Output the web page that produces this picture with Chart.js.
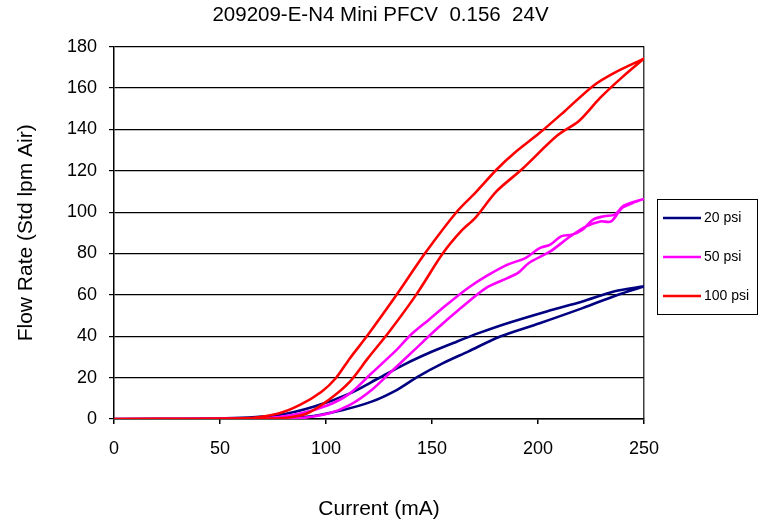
<!DOCTYPE html>
<html>
<head>
<meta charset="utf-8">
<script src="https://cdn.jsdelivr.net/npm/chart.js@4/dist/chart.umd.min.js"></script>
<style>
  html, body { margin: 0; padding: 0; background: #fff; }
  #wrap { width: 761px; height: 523px; }
</style>
</head>
<body>
<div id="wrap"><canvas id="chart" width="761" height="523"></canvas></div>
<script>
// Curvas de histéresis: cada presión tiene rama de subida y rama de bajada.
const TITLE = "209209-E-N4 Mini PFCV  0.156  24V";
const X_TICKS = [0, 50, 100, 150, 200, 250];
const Y_TICKS = [0, 20, 40, 60, 80, 100, 120, 140, 160, 180];

const psi20RiseX = [0, 40, 69, 91, 108, 121.5, 133.3, 143.4, 155.2, 167, 182.2, 200.8, 221, 237.8, 250];
const psi20RiseY = [0, 0, 0.3, 1.1, 4.4, 8.4, 14, 20.5, 27, 32.6, 39.9, 46.3, 53.6, 60.1, 64.1];
const psi20FallX = [250, 236.2, 221, 204.1, 185.6, 172, 161.9, 150.1, 136.6, 124.8, 111.3, 94.5, 77.6, 52.3, 0];
const psi20FallY = [64.1, 61.7, 56.8, 52, 46.3, 41.5, 37.5, 32.6, 26.2, 19.7, 12.4, 6, 1.9, 0.3, 0];

const psi50RiseX = [0, 50, 86, 101.2, 111.3, 121.5, 131.6, 141.7, 151.8, 163.6, 175.4, 185.6, 190.6, 195.7, 205.8, 214.2, 222.7, 229.4, 234.5, 239.5, 244.6, 250];
const psi50RiseY = [0, 0, 0.3, 2.7, 6.8, 14, 23.7, 33.4, 43.1, 53.6, 63.3, 68.1, 70.6, 75.4, 81, 87.5, 93.1, 95.5, 95.5, 101.9, 104.4, 106.4];
const psi50FallX = [250, 240.4, 236.2, 231.1, 226, 221, 216, 210.9, 205.8, 200.8, 194, 185.6, 175.4, 167, 156.9, 148.4, 140, 133.3, 121.5, 111.3, 101.2, 87.7, 69, 0];
const psi50FallY = [106.4, 103.1, 98.8, 98, 96.4, 91.5, 89.1, 88.3, 84.3, 82.6, 77.8, 74.6, 68.9, 63.3, 55.2, 47.9, 40.7, 33.4, 22.1, 12.4, 6.8, 2.7, 0.3, 0];

const psi100RiseX = [0, 50, 77.6, 91, 101.2, 111.3, 119.8, 129.9, 142.5, 155.2, 163.6, 170.4, 180.5, 192.3, 209.2, 219.3, 229.4, 239.5, 250];
const psi100RiseY = [0, 0, 0.3, 2.7, 9.2, 18.1, 29.4, 42.3, 60, 80.2, 90.7, 97.2, 110.1, 120.6, 137.1, 144, 155.3, 165, 174.2];
const psi100FallX = [250, 236.2, 226, 212.6, 200.8, 189, 180.5, 170.4, 161.9, 146.8, 133.3, 119.8, 111.3, 104.6, 97.9, 87.7, 77.6, 60.7, 0];
const psi100FallY = [174.2, 167.4, 161, 148.8, 138.3, 128.7, 120.6, 109.3, 100.4, 80.2, 60, 40.7, 29.4, 19.7, 13.2, 6.8, 2.7, 0.3, 0];

const FONT = "'Liberation Sans', Arial, sans-serif";

// sube por una rama y vuelve por la otra, así queda un solo trazo por presión
function loop(rx, ry, fx, fy) {
  const pts = rx.map((x, i) => ({ x, y: ry[i] }));
  return pts.concat(fx.map((x, i) => ({ x, y: fy[i] })));
}

function series(label, color, pts) {
  return {
    label,
    data: pts,
    showLine: true,
    borderColor: color,
    backgroundColor: color,
    borderWidth: 2.6,
    pointRadius: 0,
    tension: 0.3,
  };
}

// el rojo va primero para que quede dibujado encima
const datasets = [
  series("100 psi", "#ff0000", loop(psi100RiseX, psi100RiseY, psi100FallX, psi100FallY)),
  series("50 psi", "#ff00ff", loop(psi50RiseX, psi50RiseY, psi50FallX, psi50FallY)),
  series("20 psi", "#000080", loop(psi20RiseX, psi20RiseY, psi20FallX, psi20FallY)),
];

// leyenda con recuadro a la derecha, como en Excel
const boxLegend = {
  id: "boxLegend",
  afterDraw(chart) {
    const ctx = chart.ctx;
    const items = chart.data.datasets.slice().reverse();
    const x0 = 657, y0 = 199, w = 100, h = 115;
    ctx.save();
    ctx.fillStyle = "#fff";
    ctx.fillRect(x0, y0, w, h);
    ctx.strokeStyle = "#000";
    ctx.lineWidth = 1;
    ctx.strokeRect(x0 + 0.5, y0 + 0.5, w, h);
    ctx.font = "14px " + FONT;
    ctx.textBaseline = "middle";
    items.forEach((ds, i) => {
      const y = y0 + 19 + i * 39;
      ctx.strokeStyle = ds.borderColor;
      ctx.lineWidth = 2.6;
      ctx.beginPath();
      ctx.moveTo(x0 + 6, y);
      ctx.lineTo(x0 + 44, y);
      ctx.stroke();
      ctx.fillStyle = "#000";
      ctx.fillText(ds.label, x0 + 47, y);
    });
    ctx.restore();
  },
};

new Chart(document.getElementById("chart"), {
  type: "scatter",
  data: { datasets },
  plugins: [boxLegend],
  options: {
    responsive: false,
    animation: false,
    plugins: {
      legend: { display: false },
      tooltip: { enabled: false },
      title: {
        display: true,
        text: TITLE,
        color: "#000",
        font: { family: FONT, size: 20.5, weight: "normal" },
        padding: { top: 3, bottom: 19 },
      },
    },
    scales: {
      x: {
        type: "linear",
        min: 0,
        max: 250,
        afterBuildTicks: (s) => { s.ticks = X_TICKS.map((v) => ({ value: v })); },
        afterFit: (s) => { s.height = 104; },
        ticks: { color: "#000", font: { family: FONT, size: 18 }, padding: 14, maxRotation: 0 },
        grid: {
          drawOnChartArea: true,
          color: (c) => (c.tick && c.tick.value === 250 ? "#404040" : "rgba(0,0,0,0)"),
          tickColor: "#000",
          tickLength: 5,
          lineWidth: 1.5,
        },
        border: { color: "#000", width: 1.5 },
        title: {
          display: true,
          text: "Current (mA)",
          color: "#000",
          font: { family: FONT, size: 21 },
          padding: { top: 0, bottom: 1 },
        },
      },
      y: {
        min: 0,
        max: 180,
        afterBuildTicks: (s) => { s.ticks = Y_TICKS.map((v) => ({ value: v })); },
        afterFit: (s) => { s.width = 114; },
        ticks: { color: "#000", font: { family: FONT, size: 18 }, padding: 12 },
        grid: { color: "#000", tickColor: "#000", tickLength: 5, lineWidth: 1.2 },
        border: { color: "#000", width: 1.5 },
        title: {
          display: true,
          text: "Flow Rate (Std lpm Air)",
          color: "#000",
          font: { family: FONT, size: 21 },
          padding: { top: 14, bottom: 0 },
        },
      },
      // eje vacío a la derecha: sólo reserva el hueco de la leyenda
      yRight: {
        position: "right",
        min: 0,
        max: 180,
        afterFit: (s) => { s.width = 117; },
        ticks: { display: false },
        grid: { display: false },
        border: { display: false },
      },
    },
  },
});
</script>
</body>
</html>
